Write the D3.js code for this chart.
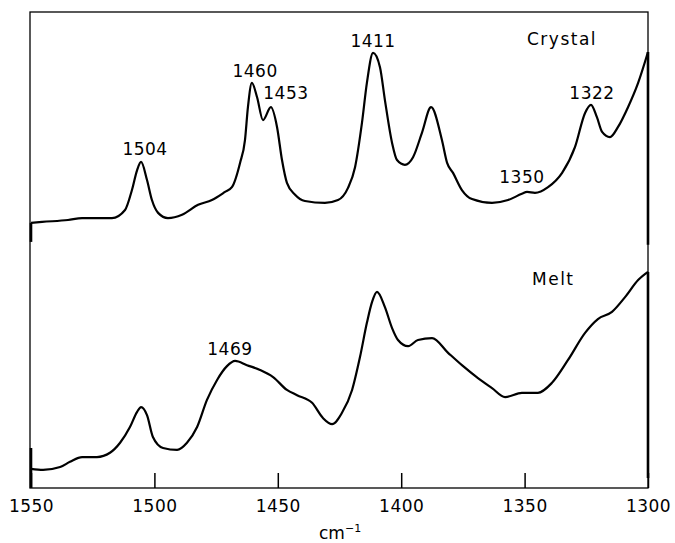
<!DOCTYPE html>
<html>
<head>
<meta charset="utf-8">
<script src="https://cdn.jsdelivr.net/npm/d3@7"></script>
<style>
  body { margin: 0; background: #fff; }
  svg text { font-family: "DejaVu Sans", sans-serif; fill: #000; }
</style>
</head>
<body>
<svg id="chart" width="675" height="543"></svg>
<script>
// wavenumber (cm-1) and absorbance (arbitrary units, 0-100 over the frame)
var crystalWn = [1550, 1545.5, 1535, 1529.3, 1517.2, 1511.9, 1509.1, 1507, 1505.4, 1503, 1501, 1498.5, 1494.5,
  1488.8, 1482.3, 1476.7, 1471.4, 1468.6, 1465.3, 1463.3, 1462.1, 1460.5, 1458.4, 1456, 1452.8, 1450.3,
  1448.3, 1446.3, 1443, 1439, 1430.9, 1425.6, 1421.6, 1418.7, 1415.9, 1413.9, 1411.4, 1408.6, 1406.6,
  1403.7, 1401.7, 1398.5, 1395.2, 1391.6, 1387.9, 1383.5, 1381.4, 1379, 1375.4, 1371.3, 1363.2, 1356.7,
  1351.1, 1349, 1345.8, 1340.5, 1334.8, 1329.6, 1325.5, 1323.1, 1320.7, 1318.6, 1315.4, 1312.2, 1308.1,
  1304, 1300];
var crystalAbs = [55.7, 55.9, 56.3, 56.7, 56.7, 58.4, 62.6, 66.8, 68.5, 64.7, 60.5, 57.8, 56.7,
  57.4, 59.5, 60.5, 62.2, 63.2, 68.3, 73.1, 80.0, 85.1, 82.1, 77.3, 80.0, 75.8,
  68.9, 64.1, 61.6, 60.3, 59.9, 60.5, 63.0, 67.4, 76.7, 85.1, 91.4, 88.4, 81.5,
  72.5, 68.9, 67.9, 69.5, 74.6, 80.0, 73.1, 68.3, 66.2, 62.6, 60.7, 59.9, 60.5,
  61.8, 62.2, 62.0, 63.2, 66.2, 71.6, 78.8, 80.5, 77.9, 74.8, 73.7, 75.8, 80.0,
  85.1, 91.6];

var meltWn = [1550, 1545.1, 1538.2, 1534.2, 1529.3, 1523.3, 1518, 1513.9, 1509.9, 1507, 1505.4, 1503,
  1500.6, 1496.5, 1490.8, 1486.8, 1482.7, 1478.7, 1474.6, 1470.6, 1467.3, 1462.5, 1457.2, 1451.9,
  1446.3, 1442.2, 1436.1, 1431.7, 1428, 1424, 1419.9, 1416.7, 1413.9, 1411.8, 1409.8, 1406.6,
  1403.7, 1401.3, 1397.2, 1393.2, 1387.5, 1381, 1375.4, 1368.9, 1363.2, 1357.9, 1351.1, 1344.6,
  1338.9, 1332.4, 1325.5, 1320.3, 1314.6, 1309.3, 1304, 1300];
var meltAbs = [4.0, 3.8, 4.4, 5.5, 6.5, 6.5, 7.4, 9.5, 12.8, 16.0, 17.0, 15.3,
  10.7, 8.4, 8.0, 9.5, 12.8, 18.5, 22.7, 25.6, 26.7, 25.8, 24.8, 23.3,
  20.6, 19.5, 17.9, 14.7, 13.4, 15.8, 20.6, 27.5, 34.7, 39.1, 41.2, 38.0,
  33.6, 31.1, 29.8, 31.1, 31.5, 28.4, 25.8, 23.1, 21.0, 19.1, 20.0, 20.0,
  22.1, 26.9, 32.6, 35.5, 37.0, 40.1, 43.7, 45.4];

// pen stubs at the start and end of each trace
var crystalEnds = [[1550, 55.7, 51.7], [1300, 91.6, 51.1]];
var meltEnds = [[1550, 8.4, 0], [1300, 45.4, 2.1]];

var tickValues = [1550, 1500, 1450, 1400, 1350, 1300];

var crystalPeaks = [
  { text: "1504", wn: 1503.8, abs: 70.0 },
  { text: "1460", wn: 1459.2, abs: 86.3 },
  { text: "1453", wn: 1446.7, abs: 81.7 },
  { text: "1411", wn: 1411.4, abs: 92.6 },
  { text: "1350", wn: 1351.1, abs: 64.1 },
  { text: "1322", wn: 1322.7, abs: 81.7 }
];
var meltPeaks = [{ text: "1469", wn: 1469.4, abs: 27.9 }];

var svg = d3.select("#chart");

var x = d3.scaleLinear().domain([1550, 1300]).range([31, 648]);
var y = d3.scaleLinear().domain([0, 100]).range([488, 12]);

// frame
svg.append("rect")
  .attr("x", 30)
  .attr("y", 12)
  .attr("width", 618)
  .attr("height", 476)
  .attr("fill", "none")
  .attr("stroke", "#000")
  .attr("stroke-width", 1.3);

var axis = d3.axisBottom(x)
  .tickValues(tickValues)
  .tickSizeInner(-15)
  .tickSizeOuter(0)
  .tickPadding(12)
  .tickFormat(d3.format("d"));

var gx = svg.append("g")
  .attr("transform", "translate(0,488)")
  .call(axis);
gx.select(".domain").remove();
gx.selectAll(".tick line").attr("stroke", "#000").attr("stroke-width", 1.5);
gx.selectAll(".tick text")
  .attr("font-size", "17px")
  .style("letter-spacing", "0.5px")
  .style("font-family", "DejaVu Sans, sans-serif");

var line = d3.line()
  .x(function(d) { return x(d[0]); })
  .y(function(d) { return y(d[1]); })
  .curve(d3.curveMonotoneX);

function drawTrace(wn, abs, ends) {
  var pts = wn.map(function(w, i) { return [w, abs[i]]; });
  svg.append("path")
    .datum(pts)
    .attr("d", line)
    .attr("fill", "none")
    .attr("stroke", "#000")
    .attr("stroke-width", 2.2)
    .attr("stroke-linejoin", "round");
  svg.append("g")
    .selectAll("line")
    .data(ends)
    .enter()
    .append("line")
    .attr("x1", function(d) { return x(d[0]); })
    .attr("x2", function(d) { return x(d[0]); })
    .attr("y1", function(d) { return y(d[1]); })
    .attr("y2", function(d) { return y(d[2]); })
    .attr("stroke", "#000")
    .attr("stroke-width", 2.6);
}

drawTrace(crystalWn, crystalAbs, crystalEnds);
drawTrace(meltWn, meltAbs, meltEnds);

svg.append("g")
  .selectAll("text")
  .data(crystalPeaks.concat(meltPeaks))
  .enter()
  .append("text")
  .attr("x", function(d) { return x(d.wn); })
  .attr("y", function(d) { return y(d.abs); })
  .attr("text-anchor", "middle")
  .attr("font-size", "17px")
  .style("letter-spacing", "0.5px")
  .text(function(d) { return d.text; });

svg.append("text")
  .attr("x", 527)
  .attr("y", 45)
  .attr("font-size", "17px")
  .style("letter-spacing", "1.5px")
  .text("Crystal");

svg.append("text")
  .attr("x", 532)
  .attr("y", 285)
  .attr("font-size", "17px")
  .style("letter-spacing", "1.5px")
  .text("Melt");

var unit = svg.append("text")
  .attr("x", 319)
  .attr("y", 539)
  .attr("font-size", "17px");
unit.append("tspan").text("cm");
unit.append("tspan")
  .attr("dy", "-7")
  .attr("font-size", "11px")
  .text("\u22121");
</script>
</body>
</html>
